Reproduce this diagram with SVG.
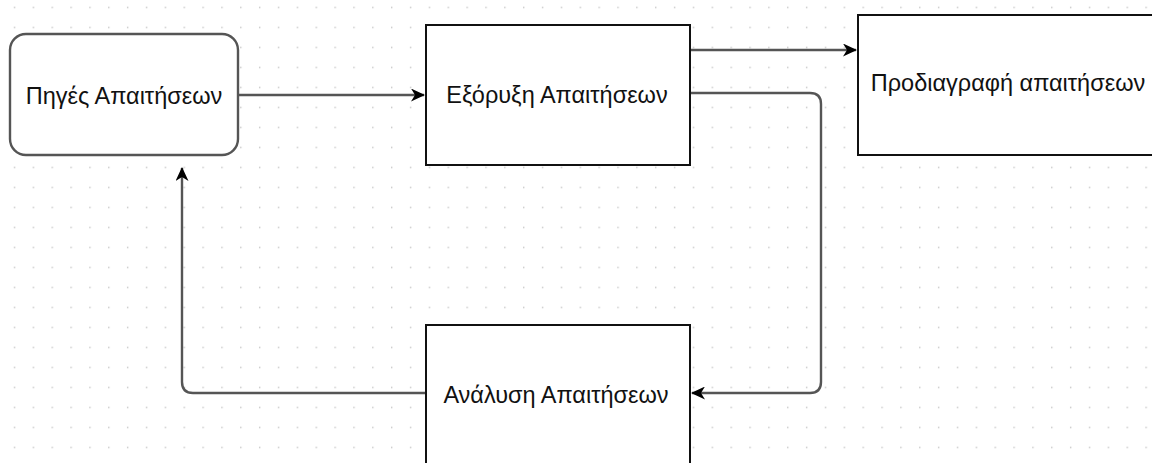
<svg xmlns="http://www.w3.org/2000/svg" width="1152" height="463" viewBox="0 0 1152 463">
  <defs>
    <!-- dotted background grid -->
    <pattern id="grid" x="13.8" y="6.7" width="18.86" height="20" patternUnits="userSpaceOnUse">
      <rect x="0" y="0" width="1.4" height="1.4" fill="#c4c4c4"/>
    </pattern>
    <marker id="arrow" viewBox="0 0 14 13" refX="13" refY="6.5" markerWidth="14" markerHeight="13" markerUnits="userSpaceOnUse" orient="auto">
      <path d="M0,0 L14,6.5 L0,13 L4,6.5 Z" fill="#000"/>
    </marker>
    <style>
      .box { fill: #fff; stroke: #111; stroke-width: 2; }
      .rbox { fill: #fff; stroke: #555; stroke-width: 2.4; }
      .label { font-family: "Liberation Sans", Arial, sans-serif; font-size: 23.5px; fill: #111; text-anchor: middle; dominant-baseline: central; }
      .edge { fill: none; stroke: #555; stroke-width: 2.4; }
    </style>
  </defs>

  <rect x="0" y="0" width="1152" height="463" fill="#fff"/>
  <rect x="0" y="0" width="1152" height="463" fill="url(#grid)"/>

  <g id="connectors">
    <path class="edge" d="M238,95 L424,95" marker-end="url(#arrow)"/>
    <path class="edge" d="M690,50 L856,50" marker-end="url(#arrow)"/>
    <path class="edge" d="M690,93 L810,93 Q821,93 821,104 L821,382 Q821,393 810,393 L692,393" marker-end="url(#arrow)"/>
    <path class="edge" d="M426,393 L193,393 Q182,393 182,382 L182,168" marker-end="url(#arrow)"/>
  </g>

  <g id="node-piges">
    <rect class="rbox" x="10" y="34" width="228" height="121" rx="16" ry="16"/>
    <text class="label" x="124" y="96">Πηγές Απαιτήσεων</text>
  </g>

  <g id="node-exoryxi">
    <rect class="box" x="426" y="25" width="264" height="140"/>
    <text class="label" x="557" y="95">Εξόρυξη Απαιτήσεων</text>
  </g>

  <g id="node-prodiagrafi">
    <rect class="box" x="858" y="15" width="300" height="140"/>
    <text class="label" x="1008" y="83">Προδιαγραφή απαιτήσεων</text>
  </g>

  <g id="node-analysi">
    <rect class="box" x="426" y="325" width="264" height="140"/>
    <text class="label" x="556" y="395">Ανάλυση Απαιτήσεων</text>
  </g>
</svg>
